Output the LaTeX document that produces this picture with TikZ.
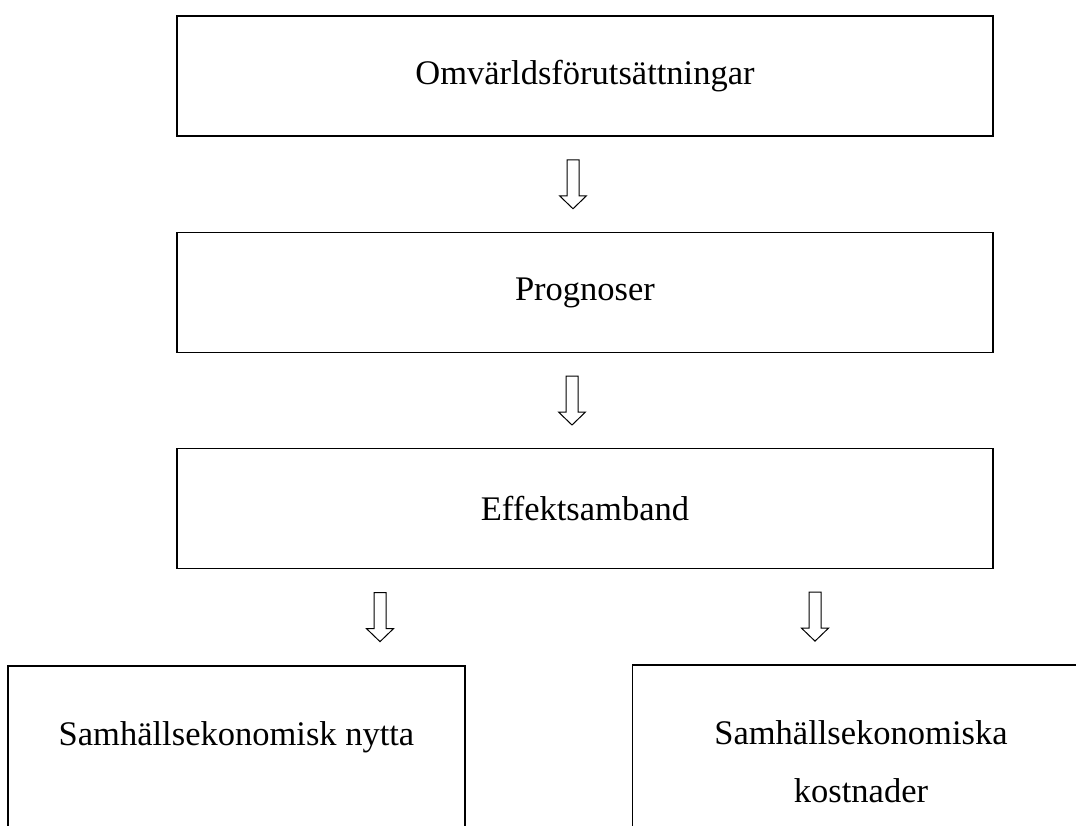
\documentclass[tikz,border=0pt]{standalone}
\usepackage{fontspec}
\setmainfont{Liberation Serif}
\usetikzlibrary{positioning,calc}

\tikzset{
  stage/.style={draw,line width=1.5pt,minimum width=816pt,minimum height=120pt,inner sep=0pt,font=\fontsize{34.5}{58}\selectfont},
  cutbox/.style={draw,line width=1.5pt,minimum width=457pt,inner sep=0pt,anchor=north,text height=80pt,text depth=240pt,align=center,font=\fontsize{34.5}{58}\selectfont},
  hollow/.style={draw,line width=1pt,fill=white,line join=miter}
}
% outlined block arrow pointing down, centred on a coordinate
\newcommand{\hollowdown}[1]{%
  \draw[hollow] (#1) ++(-6,-24.5) -- ++(12,0) -- ++(0,36) -- ++(7.5,0) -- ++(-13.5,13) -- ++(-13.5,-13) -- ++(7.5,0) -- cycle;}

\begin{document}
\begin{tikzpicture}[x=1pt,y=-1pt]
\useasboundingbox (0,0) rectangle (1076,825);
\clip (0,0) rectangle (1076,825);
% main chain
\node[stage] (omv) at (585,76) {Omvärldsförutsättningar};
\node[stage] (prog) at (585,292.5) {Prognoser};
\node[stage] (eff) at (585,508.5) {Effektsamband};
% results, cut off at the page edge
\node[cutbox] (nytta) at (236.5,665) {Samhällsekonomisk nytta};
\node[cutbox,text height=138pt] (kostn) at (861,664) {Samhällsekonomiska\\kostnader};
% block arrows
\path ($(omv.south)+(-12,0)$) -- coordinate[midway] (a1) ($(prog.north)+(-12,0)$);
\path ($(prog.south)+(-13,0)$) -- coordinate[midway] (a2) ($(eff.north)+(-13,0)$);
\path ($(eff.south)+(-205,0)$) -- coordinate[midway] (a3) ($(eff.south |- nytta.north)+(-205,0)$);
\path ($(eff.south)+(230,0)$) -- coordinate[midway] (a4) ($(eff.south |- kostn.north)+(230,0)$);
\hollowdown{a1}
\hollowdown{a2}
\hollowdown{a3}
\hollowdown{a4}
\end{tikzpicture}
\end{document}
